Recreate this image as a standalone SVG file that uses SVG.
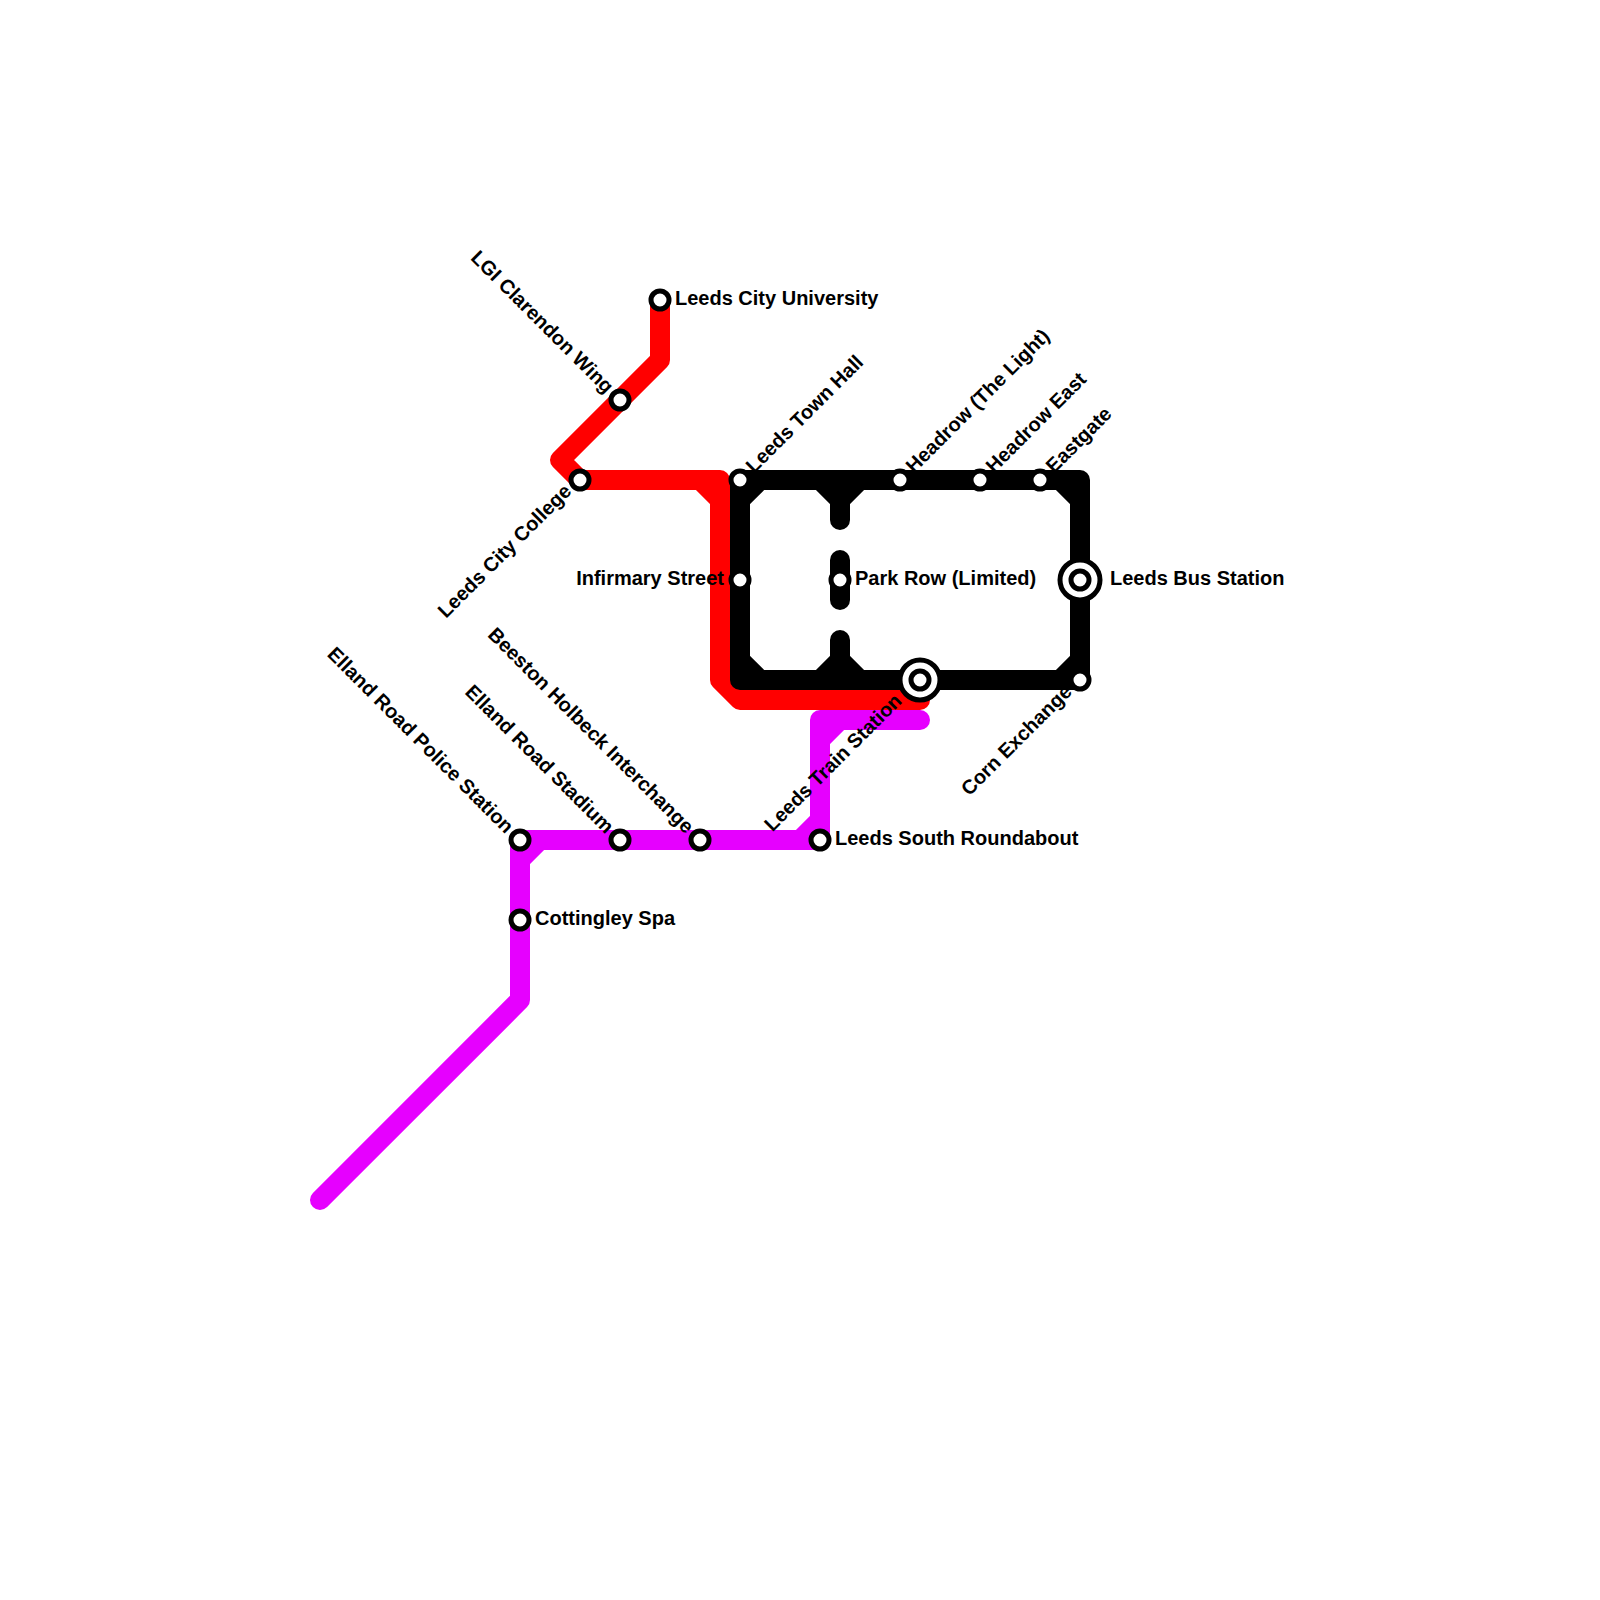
<svg xmlns="http://www.w3.org/2000/svg" width="1600" height="1600" viewBox="0 0 1600 1600">
<style>
.l{fill:none;stroke-width:20;stroke-linecap:round;stroke-linejoin:round}
.d{fill:none;stroke-width:20;stroke-linecap:butt}
.red{stroke:#ff0000}.mag{stroke:#e600ff}.blk{stroke:#000}
.st{fill:#fff;stroke:#000;stroke-width:5}
.big{fill:#fff;stroke:#000;stroke-width:5}
text{font-family:"Liberation Sans",Arial,sans-serif;font-weight:700;font-size:20px;fill:#000}
.e{text-anchor:end}
</style>
<rect width="1600" height="1600" fill="#fff"/>
<g id="connectors">
<g id="line-magenta">
<path class="l mag" d="M320 1200L520 1000V840H820V720H920"/>
<path class="d mag" d="M520 860L540 840M800 840L820 820M820 740L840 720"/>
</g>
<g id="line-red">
<path class="l red" d="M660 300V360L560 460L580 480H720V680L740 700H920"/>
<path class="d red" d="M700 480L720 500"/>
</g>
<g id="line-black">
<path class="l blk" d="M740 480H1080V680H740Z"/>
<path class="d blk" d="M740 500L760 480M1060 480L1080 500M1080 660L1060 680M760 680L740 660"/>
<path class="l blk" d="M820 480L840 500L860 480M840 500V520"/>
<path class="l blk" d="M840 560V600"/>
<path class="l blk" d="M840 640V660M820 680L840 660L860 680"/>
</g>
</g>
<g id="n-leeds-city-university"><circle class="st" cx="660" cy="300" r="9"/><text x="675" y="305">Leeds City University</text></g>
<g id="n-lgi-clarendon-wing"><circle class="st" cx="620" cy="400" r="9"/><text class="e" transform="translate(605.5 394.5) rotate(45)">LGI Clarendon Wing</text></g>
<g id="n-leeds-city-college"><circle class="st" cx="580" cy="480" r="9"/><text class="e" transform="translate(572.5 492.5) rotate(-45)">Leeds City College</text></g>
<g id="n-leeds-town-hall"><circle class="st" cx="740" cy="480" r="9"/><text transform="translate(754 474) rotate(-45)">Leeds Town Hall</text></g>
<g id="n-headrow-light"><circle class="st" cx="900" cy="480" r="9"/><text transform="translate(914 474) rotate(-45)">Headrow (The Light)</text></g>
<g id="n-headrow-east"><circle class="st" cx="980" cy="480" r="9"/><text transform="translate(994 474) rotate(-45)">Headrow East</text></g>
<g id="n-eastgate"><circle class="st" cx="1040" cy="480" r="9"/><text transform="translate(1054 474) rotate(-45)">Eastgate</text></g>
<g id="n-infirmary-street"><circle class="st" cx="740" cy="580" r="9"/><text class="e" x="724" y="585">Infirmary Street</text></g>
<g id="n-park-row"><circle class="st" cx="840" cy="580" r="9"/><text x="855" y="585">Park Row (Limited)</text></g>
<g id="n-leeds-bus-station"><circle class="big" cx="1080" cy="580" r="20"/><circle class="st" cx="1080" cy="580" r="9"/><text x="1110" y="585">Leeds Bus Station</text></g>
<g id="n-leeds-train-station"><circle class="big" cx="920" cy="680" r="20"/><circle class="st" cx="920" cy="680" r="9"/><text class="e" transform="translate(903 702) rotate(-45)">Leeds Train Station</text></g>
<g id="n-corn-exchange"><circle class="st" cx="1080" cy="680" r="9"/><text class="e" transform="translate(1073 693) rotate(-45)">Corn Exchange</text></g>
<g id="n-elland-road-police"><circle class="st" cx="520" cy="840" r="9"/><text class="e" transform="translate(505.5 834.5) rotate(45)">Elland Road Police Station</text></g>
<g id="n-elland-road-stadium"><circle class="st" cx="620" cy="840" r="9"/><text class="e" transform="translate(605.5 834.5) rotate(45)">Elland Road Stadium</text></g>
<g id="n-beeston-holbeck"><circle class="st" cx="700" cy="840" r="9"/><text class="e" transform="translate(685.5 834.5) rotate(45)">Beeston Holbeck Interchange</text></g>
<g id="n-leeds-south-roundabout"><circle class="st" cx="820" cy="840" r="9"/><text x="835" y="845">Leeds South Roundabout</text></g>
<g id="n-cottingley-spa"><circle class="st" cx="520" cy="920" r="9"/><text x="535" y="925">Cottingley Spa</text></g>
</svg>
